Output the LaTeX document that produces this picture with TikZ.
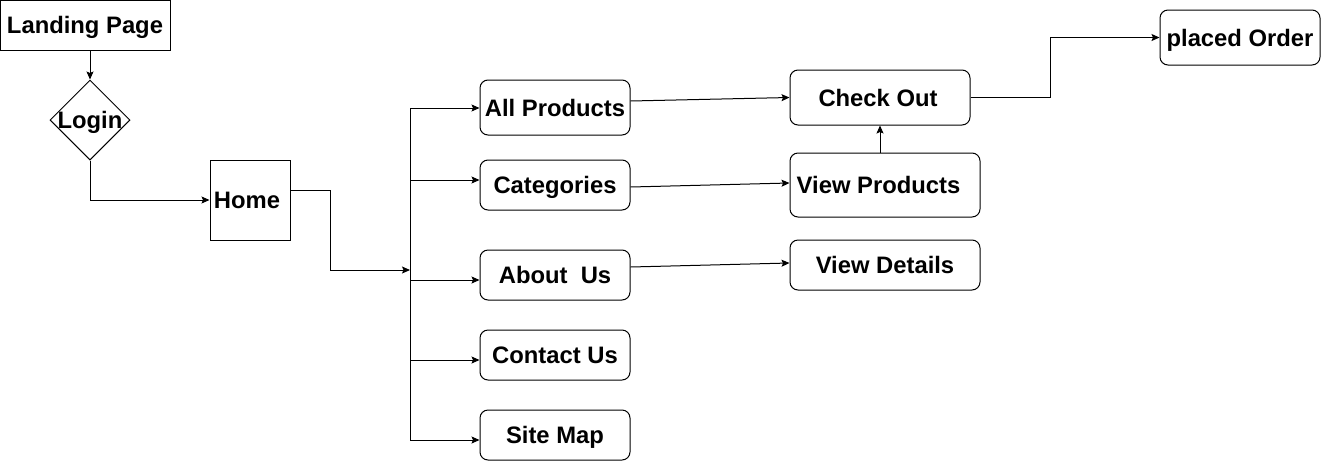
\documentclass[tikz,border=0pt]{standalone}
\usepackage{fontspec}
\setmainfont{Liberation Sans}
\usetikzlibrary{arrows.meta,shapes.geometric}
\begin{document}
\begin{tikzpicture}[x=1pt,y=-1pt,
  every node/.style={font=\fontsize{23.8}{28}\selectfont\bfseries, inner sep=0pt, text height=17pt, text depth=0pt},
  sbox/.style={draw, line width=1pt, rectangle},
  rbox/.style={draw, line width=1pt, rectangle, rounded corners=8pt},
  conn/.style={line width=1pt, -{Stealth[length=8pt,width=7pt,inset=1.5pt]}},
  plain/.style={line width=1pt}]
\useasboundingbox (0,0) rectangle (1321,461);
% nodes
\node[sbox, minimum width=170pt, minimum height=50pt] (lp) at (85,25) {Landing Page};
\node[draw, line width=1pt, diamond, minimum width=80pt, minimum height=80pt, aspect=1, text height=0pt] (login) at (90,120) {};
\node at (90,120) {Login};
\node[sbox, minimum width=80pt, minimum height=80pt, text height=0pt] (home) at (250,200) {};
\node at (247,200) {Home};
\node[rbox, minimum width=150pt, minimum height=55pt] (ap) at (555,107.5) {All Products};
\node[rbox, minimum width=150pt, minimum height=50pt] (cat) at (555,185) {Categories};
\node[rbox, minimum width=150pt, minimum height=50pt] (au) at (555,275) {About\ \ Us};
\node[rbox, minimum width=150pt, minimum height=50pt] (cu) at (555,355) {Contact Us};
\node[rbox, minimum width=150pt, minimum height=50pt] (sm) at (555,435) {Site Map};
\node[rbox, minimum width=180pt, minimum height=55pt, text height=0pt] (co) at (880,97.5) {};
\node at (878,98) {Check Out};
\node[rbox, minimum width=190pt, minimum height=64pt, text height=0pt] (vp) at (885,185) {};
\node at (878.5,185) {View Products};
\node[rbox, minimum width=190pt, minimum height=50pt] (vd) at (885,265) {View Details};
\node[rbox, minimum width=160pt, minimum height=55pt] (po) at (1240,37.5) {placed Order};
% bus coordinates
\coordinate (btop) at (410,108);
\coordinate (bin) at (410,270);
\coordinate (bcat) at (410,180);
\coordinate (bau) at (410,280);
\coordinate (bcu) at (410,360);
\coordinate (bsm) at (410,440);
% connectors
\draw[conn] (lp.south -| login.north) -- (login.north);
\draw[conn] (login.south) |- (home.west);
\draw[conn] ([yshift=10pt]home.east) -- (330,190) -- (330,270) -- (bin);
\draw[plain] (btop) -- (bsm);
\draw[conn] (btop) -- (ap.west |- btop);
\draw[conn] (bcat) -- (cat.west |- bcat);
\draw[conn] (bau) -- (au.west |- bau);
\draw[conn] (bcu) -- (cu.west |- bcu);
\draw[conn] (bsm) -- (sm.west |- bsm);
\draw[conn] ([yshift=6.5pt]ap.east) -- (co.west);
\draw[conn] ([yshift=-2pt]cat.east) -- ([yshift=2pt]vp.west);
\draw[conn] ([yshift=8pt]au.east) -- ([yshift=2pt]vd.west);
\draw[conn] (vp.north -| co.south) -- (co.south);
\draw[conn] (co.east) -- (1050,97.5) -- (1050,37.5) -- (po.west);
\end{tikzpicture}
\end{document}
